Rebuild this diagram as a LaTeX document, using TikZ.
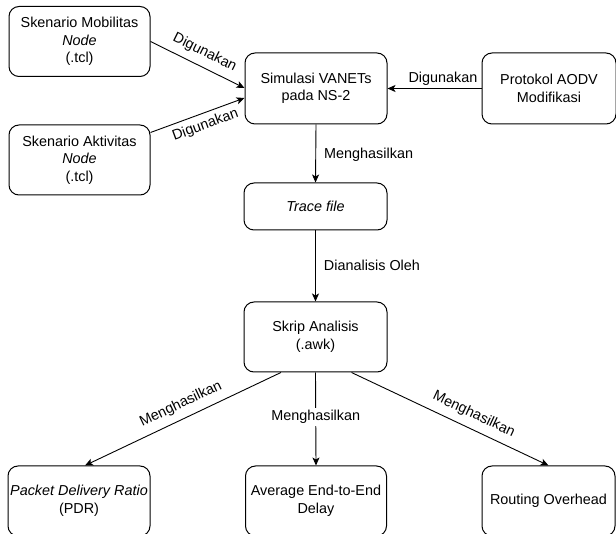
\documentclass[tikz,border=0pt]{standalone}
\usepackage{fontspec}
\setmainfont{Liberation Sans}
\usetikzlibrary{arrows.meta,calc}

\begin{document}
\begin{tikzpicture}[x=1pt,y=-1pt,
  every node/.style={font=\fontsize{14.4}{17.5}\selectfont, text=black},
  box/.style={draw, rounded corners=10pt, line width=1pt, align=center,
              inner sep=2pt, minimum height=70pt},
  link/.style={line width=0.9pt, -{Stealth[length=8pt,width=7pt,inset=2pt]}},
  lbl/.style={inner sep=2pt}
]
\useasboundingbox (0,0) rectangle (616,534);
\clip (0,0) rectangle (616,534);

% input scenarios and protocol
\node[box, minimum width=141pt] (mob) at (79.5,41.5) {Skenario Mobilitas\\\textit{Node}\\(.tcl)};
\node[box, minimum width=141pt] (akt) at (79.5,160) {Skenario Aktivitas\\\textit{Node}\\(.tcl)};
\node[box, minimum width=142pt, minimum height=71pt] (sim) at (316,88.5) {Simulasi VANETs\\pada NS-2};
\node[box, minimum width=134pt, minimum height=71pt] (aodv) at (549,88.5) {Protokol AODV\\Modifikasi};

% processing chain
\node[box, minimum width=143pt, minimum height=47pt] (trace) at (315.5,206.5) {\textit{Trace file}};
\node[box, minimum width=143pt] (awk) at (315.5,337) {Skrip Analisis\\(.awk)};

% metrics
\node[box, minimum width=142pt] (pdr) at (79,501) {\textit{Packet Delivery Ratio}\\(PDR)};
\node[box, minimum width=141pt] (avg) at (316,501) {Average End-to-End\\Delay};
\node[box, minimum width=133pt] (rout) at (548.5,501) {Routing Overhead};

% connectors
\draw[link] (mob.east) -- node[lbl, sloped, above=5pt, pos=0.51] {Digunakan} ($(sim.west)+(0,-0.5)$);
\draw[link] ($(akt.north east)+(0,8)$) -- node[lbl, sloped, below=3pt, pos=0.54] {Digunakan} ($(sim.west)+(0,9.5)$);
\draw[link] (aodv.west) -- node[lbl, above=1pt, pos=0.41] {Digunakan} (sim.east);
\draw[link] (sim.south) -- node[lbl, right=6pt, pos=0.52] {Menghasilkan} (trace.north);
\draw[link] (trace.south) -- node[lbl, right=6pt, pos=0.49] {Dianalisis Oleh} (awk.north);
\draw[link] ($(awk.south west)!0.26!(awk.south east)$) -- node[lbl, sloped, above=5pt, pos=0.48] {Menghasilkan} ($(pdr.north)+(6,0)$);
\draw[link] (awk.south) -- node[lbl, fill=white, pos=0.48] {Menghasilkan} (avg.north);
\draw[link] ($(awk.south west)!0.75!(awk.south east)$) -- node[lbl, sloped, above=5pt, pos=0.59] {Menghasilkan} (rout.north);
\end{tikzpicture}
\end{document}
